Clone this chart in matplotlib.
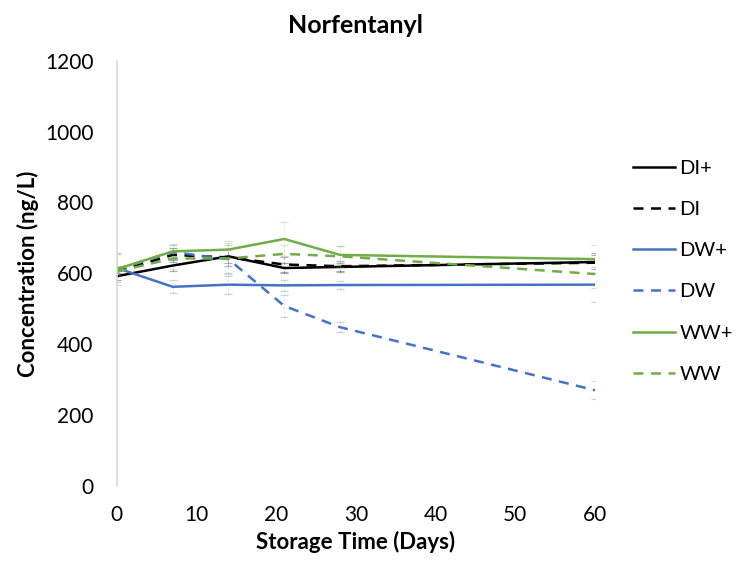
import matplotlib.pyplot as plt

plt.rcParams['font.family'] = ['Lato', 'DejaVu Sans']

# storage days
days = [0, 7, 14, 21, 28, 60]

# mean concentration (ng/L) per matrix
di_plus = [592, 622, 648, 615, 618, 632]
di = [605, 652, 645, 625, 620, 630]
dw_plus = [615, 562, 568, 566, 567, 568]
dw = [612, 660, 640, 508, 448, 270]
ww_plus = [612, 662, 667, 697, 652, 640]
ww = [605, 642, 642, 655, 648, 598]

# error bar half widths
di_plus_err = [10, 15, 20, 15, 12, 20]
di_err = [12, 20, 25, 20, 15, 28]
dw_plus_err = [40, 18, 25, 15, 12, 50]
dw_err = [45, 20, 40, 30, 15, 25]
ww_plus_err = [10, 20, 25, 48, 25, 40]
ww_err = [10, 30, 45, 25, 30, 40]

series_names = ['DI+', 'DI', 'DW+', 'DW', 'WW+', 'WW']

black = '#000000'
blue = '#4472C4'
green = '#70AD47'

fig = plt.figure(figsize=(7.4, 5.63), dpi=100)
ax = fig.add_axes([0.158, 0.137, 0.646, 0.755])

series = [
    (di_plus, di_plus_err, black, '-'),
    (di, di_err, black, '--'),
    (dw_plus, dw_plus_err, blue, '-'),
    (dw, dw_err, blue, '--'),
    (ww_plus, ww_plus_err, green, '-'),
    (ww, ww_err, green, '--'),
]

for (vals, errs, col, ls), name in zip(series, series_names):
    # faint dashed error bars like the excel original
    eb = ax.errorbar(days, vals, yerr=errs, fmt='none', ecolor=col,
                     elinewidth=0.6, capsize=3, capthick=0.9, alpha=0.3)
    eb[2][0].set_linestyle((0, (2, 3)))
    ax.plot(days, vals, color=col, linestyle=ls, linewidth=1.8,
            dashes=(4, 3) if ls == '--' else (None, None), label=name)

ax.set_xlim(0, 60)
ax.set_ylim(0, 1200)
ax.set_xticks(range(0, 61, 10))
ax.set_yticks(range(0, 1201, 200))
ax.tick_params(axis='x', length=0, labelsize=15, pad=14)
ax.tick_params(axis='y', length=0, labelsize=15, pad=17)

for side in ['top', 'right', 'bottom']:
    ax.spines[side].set_visible(False)
ax.spines['left'].set_color('#D9D9D9')
ax.spines['left'].set_linewidth(1.2)

ax.set_title('Norfentanyl', fontsize=18, fontweight='bold', pad=20)
ax.set_xlabel('Storage Time (Days)', fontsize=16, fontweight='bold', labelpad=4)
ax.set_ylabel('Concentration (ng/L)', fontsize=16, fontweight='bold', labelpad=4)

ax.legend(loc='center left', bbox_to_anchor=(1.08, 0.505), frameon=False,
          fontsize=14.5, handlelength=2.1, handletextpad=0.2, labelspacing=1.2,
          borderpad=0, borderaxespad=0)

fig.savefig('out.png', dpi=100)
